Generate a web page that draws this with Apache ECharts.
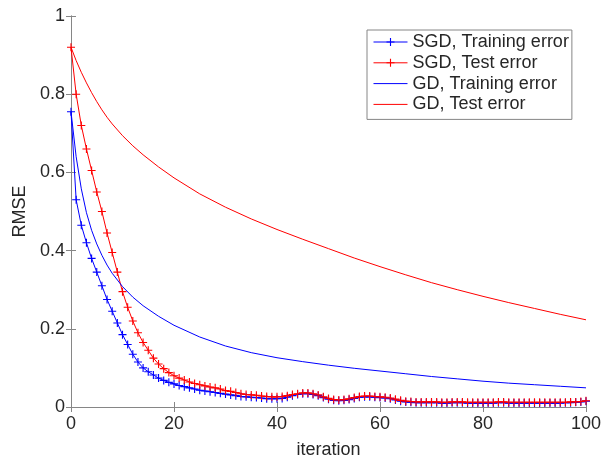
<!DOCTYPE html>
<html>
<head>
<meta charset="utf-8">
<script src="https://cdn.jsdelivr.net/npm/echarts@6/dist/echarts.min.js"></script>
<style>
  html, body { margin: 0; padding: 0; background: #fff; }
  #chart { width: 605px; height: 466px; }
</style>
</head>
<body>
<div id="chart"></div>
<script>
// SGD curves, one value per iteration 0..100
const sgdTrain = [
  0.755, 0.53, 0.465, 0.42, 0.38, 0.345, 0.31, 0.275, 0.245, 0.215,
  0.185, 0.16, 0.135, 0.115, 0.1, 0.09, 0.082, 0.074, 0.068, 0.063,
  0.059, 0.055, 0.052, 0.049, 0.046, 0.043, 0.041, 0.039, 0.037, 0.035,
  0.033, 0.031, 0.029, 0.027, 0.026, 0.025, 0.024, 0.023, 0.021, 0.021,
  0.021, 0.022, 0.025, 0.029, 0.032, 0.034, 0.034, 0.032, 0.029, 0.024,
  0.02, 0.017, 0.016, 0.017, 0.019, 0.022, 0.025, 0.026, 0.026, 0.025,
  0.024, 0.023, 0.021, 0.018, 0.015, 0.013, 0.012, 0.011, 0.011, 0.011,
  0.011, 0.011, 0.01, 0.01, 0.011, 0.011, 0.011, 0.01, 0.01, 0.01,
  0.01, 0.01, 0.01, 0.011, 0.011, 0.01, 0.01, 0.01, 0.01, 0.01,
  0.01, 0.01, 0.01, 0.01, 0.01, 0.01, 0.011, 0.011, 0.012, 0.013,
  0.015
];
const sgdTest = [
  0.92, 0.80, 0.72, 0.66, 0.605, 0.55, 0.50, 0.445, 0.395, 0.345,
  0.295, 0.255, 0.22, 0.19, 0.165, 0.145, 0.125, 0.11, 0.098, 0.088,
  0.08, 0.074, 0.069, 0.064, 0.06, 0.057, 0.054, 0.051, 0.049, 0.046,
  0.042, 0.04, 0.037, 0.034, 0.032, 0.031, 0.03, 0.028, 0.027, 0.026,
  0.026, 0.027, 0.029, 0.032, 0.034, 0.036, 0.036, 0.034, 0.031, 0.026,
  0.022, 0.019, 0.018, 0.019, 0.021, 0.024, 0.027, 0.028, 0.028, 0.027,
  0.026, 0.025, 0.023, 0.02, 0.017, 0.015, 0.014, 0.013, 0.013, 0.013,
  0.013, 0.013, 0.012, 0.012, 0.013, 0.013, 0.013, 0.012, 0.012, 0.012,
  0.012, 0.012, 0.012, 0.013, 0.013, 0.012, 0.012, 0.012, 0.012, 0.012,
  0.012, 0.012, 0.012, 0.012, 0.012, 0.012, 0.012, 0.013, 0.013, 0.014,
  0.016
];
// GD curves, read at these iterations
const gdIter = [0, 1, 2, 3, 4, 5, 6, 7, 8, 10, 12, 14, 17, 20, 25, 30, 35, 40, 45, 50,
  55, 60, 65, 70, 75, 80, 85, 90, 95, 100];
const gdTrain = [0.755, 0.64, 0.558, 0.497, 0.452, 0.417, 0.388, 0.363, 0.342, 0.308,
  0.281, 0.259, 0.232, 0.209, 0.179, 0.156, 0.139, 0.126, 0.116, 0.107, 0.099,
  0.092, 0.085, 0.078, 0.072, 0.066, 0.061, 0.057, 0.053, 0.049];
const gdTest = [0.92, 0.886, 0.856, 0.829, 0.804, 0.781, 0.76, 0.741, 0.724, 0.694,
  0.668, 0.645, 0.614, 0.586, 0.545, 0.511, 0.481, 0.454, 0.429, 0.405, 0.381,
  0.359, 0.338, 0.318, 0.3, 0.283, 0.267, 0.252, 0.237, 0.223];
const seriesNames = ["SGD, Training error", "SGD, Test error", "GD, Training error", "GD, Test error"];

const blue = "#0000ff";
const red = "#ff0000";
const axisGray = "#868686";
const textColor = "#262626";
const font = "Liberation Sans, Arial, sans-serif";
const plus = "path://M4.3,0H5.7V4.3H10V5.7H5.7V10H4.3V5.7H0V4.3H4.3Z";

const sgdPoints = (vals) => vals.map((v, i) => [i, v]);
const gdPoints = (vals) => vals.map((v, i) => [gdIter[i], v]);

const chart = echarts.init(document.getElementById("chart"));

const axisBase = {
  type: "value",
  axisLine: { show: true, lineStyle: { color: axisGray, width: 1 } },
  axisTick: { show: true, inside: true, length: 5, lineStyle: { color: axisGray } },
  splitLine: { show: false },
};

const option = {
  animation: false,
  backgroundColor: "#fff",
  grid: { left: 71, right: 19, top: 16, bottom: 59 },
  xAxis: [
    {
      ...axisBase,
      position: "bottom",
      min: 0, max: 100, interval: 20,
      name: "iteration",
      nameLocation: "middle",
      nameGap: 34,
      nameTextStyle: { fontSize: 18, color: textColor, fontFamily: font },
      axisLabel: { fontSize: 18, color: textColor, fontFamily: font, margin: 8 },
    },
    {
      ...axisBase,
      position: "top",
      min: 0, max: 100, interval: 20,
      axisLabel: { show: false },
    },
  ],
  yAxis: [
    {
      ...axisBase,
      position: "left",
      min: 0, max: 1, interval: 0.2,
      name: "RMSE",
      nameLocation: "middle",
      nameGap: 37,
      nameTextStyle: { fontSize: 18, color: textColor, fontFamily: font },
      axisLabel: { fontSize: 18, color: textColor, fontFamily: font, margin: 6 },
    },
    {
      ...axisBase,
      position: "right",
      min: 0, max: 1, interval: 0.2,
      axisLabel: { show: false },
    },
  ],
  legend: {
    orient: "vertical",
    left: 367,
    top: 30,
    padding: [2, 3, 5, 6],
    itemWidth: 34,
    itemHeight: 10,
    itemGap: 0.8,
    backgroundColor: "#fff",
    borderColor: axisGray,
    borderWidth: 1,
    borderRadius: 0,
    lineStyle: { width: 1 },
    textStyle: { fontSize: 18, color: textColor, fontFamily: font, lineHeight: 20 },
    data: [
      { name: seriesNames[0] },
      { name: seriesNames[1] },
      { name: seriesNames[2], itemStyle: { opacity: 0 } },
      { name: seriesNames[3], itemStyle: { opacity: 0 } },
    ],
  },
  series: [
    {
      name: seriesNames[0],
      type: "line",
      data: sgdPoints(sgdTrain),
      symbol: plus,
      symbolSize: 8,
      showAllSymbol: true,
      lineStyle: { color: blue, width: 1 },
      itemStyle: { color: blue },
    },
    {
      name: seriesNames[1],
      type: "line",
      data: sgdPoints(sgdTest),
      symbol: plus,
      symbolSize: 8,
      showAllSymbol: true,
      lineStyle: { color: red, width: 1 },
      itemStyle: { color: red },
    },
    {
      name: seriesNames[2],
      type: "line",
      data: gdPoints(gdTrain),
      symbol: "none",
      lineStyle: { color: blue, width: 1 },
      itemStyle: { color: blue },
    },
    {
      name: seriesNames[3],
      type: "line",
      data: gdPoints(gdTest),
      symbol: "none",
      lineStyle: { color: red, width: 1 },
      itemStyle: { color: red },
    },
  ],
};

chart.setOption(option);
</script>
</body>
</html>
